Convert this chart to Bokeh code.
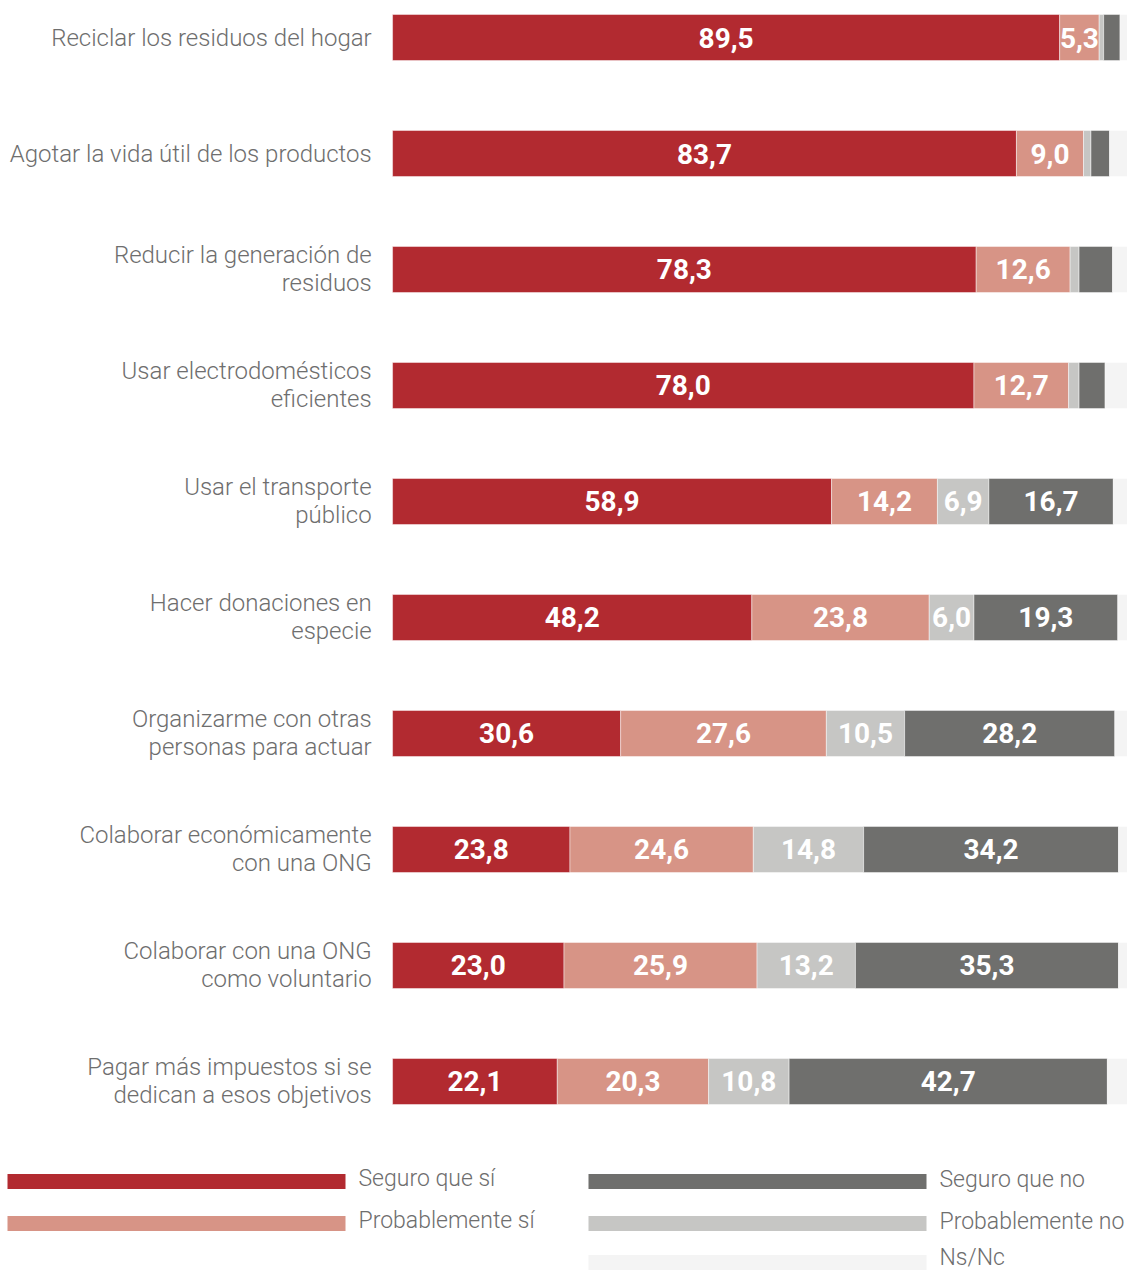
from bokeh.plotting import figure
from bokeh.models import Range1d, ColumnDataSource
from bokeh.core.properties import value
from bokeh.embed import file_html
from bokeh.resources import INLINE

categories = [
    "Reciclar los residuos del hogar",
    "Agotar la vida útil de los productos",
    "Reducir la generación de\nresiduos",
    "Usar electrodomésticos\neficientes",
    "Usar el transporte\npúblico",
    "Hacer donaciones en\nespecie",
    "Organizarme con otras\npersonas para actuar",
    "Colaborar económicamente\ncon una ONG",
    "Colaborar con una ONG\ncomo voluntario",
    "Pagar más impuestos si se\ndedican a esos objetivos",
]
series_names = ["Seguro que sí", "Probablemente sí", "Probablemente no", "Seguro que no", "Ns/Nc"]
seguro_si = [89.5, 83.7, 78.3, 78.0, 58.9, 48.2, 30.6, 23.8, 23.0, 22.1]
prob_si = [5.3, 9.0, 12.6, 12.7, 14.2, 23.8, 27.6, 24.6, 25.9, 20.3]
prob_no = [0.6, 1.0, 1.2, 1.4, 6.9, 6.0, 10.5, 14.8, 13.2, 10.8]
seguro_no = [2.2, 2.5, 4.5, 3.5, 16.7, 19.3, 28.2, 34.2, 35.3, 42.7]
ns_nc = [2.4, 3.8, 3.4, 4.4, 3.3, 2.7, 3.1, 2.6, 2.6, 4.1]

colors = ["#b22a30", "#d79486", "#c6c6c4", "#6f6f6d", "#f4f4f4"]
label_color = "#6e6e6e"
LIGHT = value("'Roboto Light', Roboto, sans-serif")

W, H = 1127, 1274
p = figure(width=W, height=H, output_backend="svg", toolbar_location=None,
           x_range=Range1d(-52.6, 98.6), y_range=Range1d(10.664, -0.319),
           x_axis_location=None, y_axis_location=None, min_border=0,
           outline_line_color=None, background_fill_color="white",
           border_fill_color="white")
p.grid.visible = False
p.extra_x_ranges["px"] = Range1d(0, W)
p.extra_y_ranges["px"] = Range1d(H, 0)

rows = list(range(len(categories)))
all_series = [seguro_si, prob_si, prob_no, seguro_no, ns_nc]
left = [0.0] * len(rows)
lx, ly, lt = [], [], []
for vals, col in zip(all_series, colors):
    right = [l + v for l, v in zip(left, vals)]
    src = ColumnDataSource(dict(y=rows, left=left, right=right))
    p.hbar(y="y", left="left", right="right", height=0.397, source=src,
           fill_color=col, line_color="white", line_alpha=0.45, line_width=1)
    if col != colors[-1]:
        for r, l, v in zip(rows, left, vals):
            if v >= 5:
                lx.append(l + v / 2)
                ly.append(r)
                lt.append(f"{v:.1f}".replace(".", ","))
    left = right

p.text(x=lx, y=ly, text=lt, text_align="center", text_baseline="middle",
       text_color="white", text_font=value("Roboto"), text_font_style="bold",
       text_font_size="28px")

p.text(x=[-2.8] * len(rows), y=rows, text=categories, text_align="right",
       text_baseline="middle", text_color=label_color, text_font=LIGHT,
       text_font_size="24px", text_line_height=1.0)

# legend (manual, in page-pixel coordinates)
leg_left = [7, 7, 588, 588, 588]
leg_right = [345, 345, 926, 926, 926]
leg_y = [1181, 1223, 1223, 1181, 1262]
leg_text_x = [358, 358, 939, 939, 939]
leg_text_y = [1178, 1220, 1221, 1179, 1257]
p.hbar(y=leg_y, left=leg_left, right=leg_right, height=15, fill_color=colors,
       line_color=None, x_range_name="px", y_range_name="px")
p.text(x=leg_text_x, y=leg_text_y, text=series_names, text_align="left",
       text_baseline="middle", text_color=label_color, text_font=LIGHT,
       text_font_size="23px", x_range_name="px", y_range_name="px")

open("out.html", "w").write(file_html(p, INLINE))
